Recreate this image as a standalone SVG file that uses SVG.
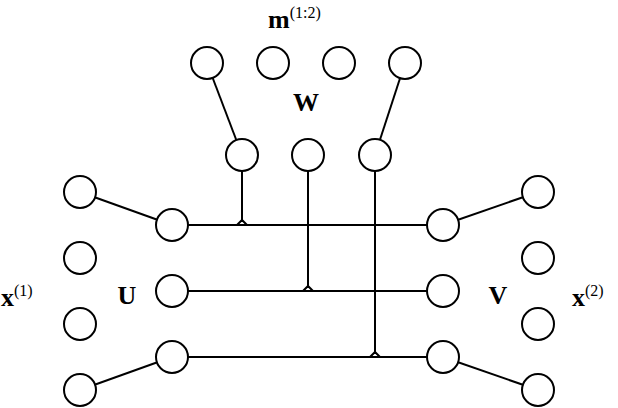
<svg xmlns="http://www.w3.org/2000/svg" width="618" height="408" viewBox="0 0 618 408">
<style>
circle{fill:#fff;stroke:#000;stroke-width:2}
line,path{stroke:#000;stroke-width:2;fill:none}
text{font-family:"Liberation Serif",serif;font-weight:bold;font-size:26px;text-anchor:middle}
.s{font-size:16px;font-weight:normal}
</style>
<rect width="618" height="408" fill="#fff"/>
<g id="connectors">
<line x1="207" y1="63" x2="242" y2="155"/>
<line x1="405" y1="63" x2="375" y2="155"/>
<line x1="242" y1="171" x2="242" y2="222"/>
<line x1="308" y1="171" x2="308" y2="288"/>
<line x1="375" y1="171" x2="375" y2="354"/>
<line x1="172" y1="225" x2="443" y2="225"/>
<line x1="172" y1="291" x2="443" y2="291"/>
<line x1="172" y1="357" x2="443" y2="357"/>
<path d="M237,225 L242,220 L247,225"/>
<path d="M303,291 L308,286 L313,291"/>
<path d="M370,357 L375,352 L380,357"/>
<line x1="80" y1="192" x2="172" y2="225"/>
<line x1="80" y1="390" x2="172" y2="357"/>
<line x1="538" y1="192" x2="443" y2="225"/>
<line x1="538" y1="390" x2="443" y2="357"/>
</g>
<g id="m"><circle cx="207" cy="63" r="16"/><circle cx="273" cy="63" r="16"/><circle cx="339" cy="63" r="16"/><circle cx="405" cy="63" r="16"/></g>
<g id="w"><circle cx="242" cy="155" r="16"/><circle cx="308" cy="155" r="16"/><circle cx="375" cy="155" r="16"/></g>
<g id="x1"><circle cx="80" cy="192" r="16"/><circle cx="80" cy="258" r="16"/><circle cx="80" cy="324" r="16"/><circle cx="80" cy="390" r="16"/></g>
<g id="u"><circle cx="172" cy="225" r="16"/><circle cx="172" cy="291" r="16"/><circle cx="172" cy="357" r="16"/></g>
<g id="v"><circle cx="443" cy="225" r="16"/><circle cx="443" cy="291" r="16"/><circle cx="443" cy="357" r="16"/></g>
<g id="x2"><circle cx="538" cy="192" r="16"/><circle cx="538" cy="258" r="16"/><circle cx="538" cy="324" r="16"/><circle cx="538" cy="390" r="16"/></g>
<g id="labels">
<text x="268" y="28" style="text-anchor:start">m<tspan class="s" dy="-10">(1:2)</tspan></text>
<text x="306" y="111">W</text>
<text x="127" y="304">U</text>
<text x="498" y="304">V</text>
<text x="1" y="306" style="text-anchor:start">x<tspan class="s" dy="-10">(1)</tspan></text>
<text x="572" y="306" style="text-anchor:start">x<tspan class="s" dy="-10">(2)</tspan></text>
</g>
</svg>
